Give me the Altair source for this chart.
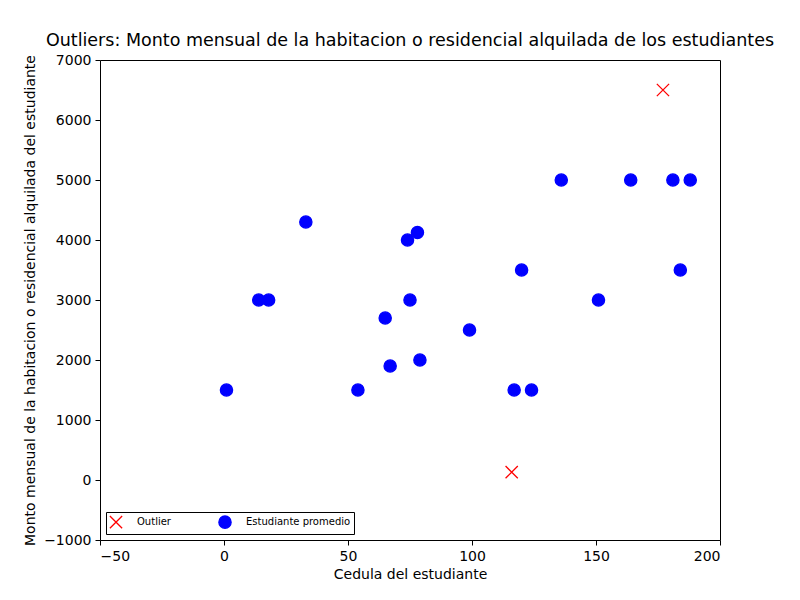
import pandas as pd
import altair as alt

# Data
cedula = [1, 14, 18, 33, 54, 65, 67, 74, 75, 78, 79, 99, 117, 120, 124, 136, 151, 164, 181, 184, 188]
monto = [1500, 3000, 3000, 4300, 1500, 2700, 1900, 4000, 3000, 4125, 2000, 2500, 1500, 3500, 1500, 5000, 3000, 5000, 5000, 3500, 5000]
out_cedula = [177, 116]
out_monto = [6500, 130]

df = pd.concat([
    pd.DataFrame({'x': out_cedula, 'y': out_monto, 'serie': 'Outlier'}),
    pd.DataFrame({'x': cedula, 'y': monto, 'serie': 'Estudiante promedio'}),
])

dom = ['Outlier', 'Estudiante promedio']
xpath = 'M-1,-1L1,1M-1,1L1,-1'

chart = alt.Chart(df).mark_point(filled=False, size=150, strokeWidth=1.3, opacity=1).encode(
    x=alt.X('x:Q', title='Cedula del estudiante',
            scale=alt.Scale(domain=[-50, 200], nice=False),
            axis=alt.Axis(values=[-50, 0, 50, 100, 150, 200])),
    y=alt.Y('y:Q', title='Monto mensual de la habitacion o residencial alquilada del estudiante',
            scale=alt.Scale(domain=[-1000, 7000], nice=False),
            axis=alt.Axis(values=list(range(-1000, 7001, 1000)), format='d', titlePadding=6)),
    color=alt.Color('serie:N', scale=alt.Scale(domain=dom, range=['red', 'blue']), title=None),
    fill=alt.Fill('serie:N', scale=alt.Scale(domain=dom, range=['transparent', 'blue']), title=None),
    shape=alt.Shape('serie:N', scale=alt.Scale(domain=dom, range=[xpath, 'circle']), title=None),
).properties(
    width=620, height=480,
    title='Outliers: Monto mensual de la habitacion o residencial alquilada de los estudiantes',
    autosize=alt.AutoSizeParams(type='none'),
    padding={'left': 92, 'top': 52, 'right': 72, 'bottom': 52},
).configure(
    font='DejaVu Sans'
).configure_view(
    stroke='black', strokeWidth=1
).configure_axis(
    grid=False, domain=False, tickColor='black', tickSize=5,
    labelFontSize=14, titleFontSize=14, labelColor='black', titleColor='black',
    titleFontWeight='normal', labelPadding=4
).configure_title(
    fontSize=17.5, fontWeight='normal', color='black', offset=4
).configure_legend(
    orient='bottom-left', direction='horizontal', columns=2,
    strokeColor='black', fillColor='white', padding=3, cornerRadius=0,
    labelFontSize=10, symbolSize=150, symbolStrokeWidth=1.3, columnPadding=45,
    labelOffset=14, offset=6
)

chart.save('out.html', embed_options={'renderer': 'svg', 'actions': False})
